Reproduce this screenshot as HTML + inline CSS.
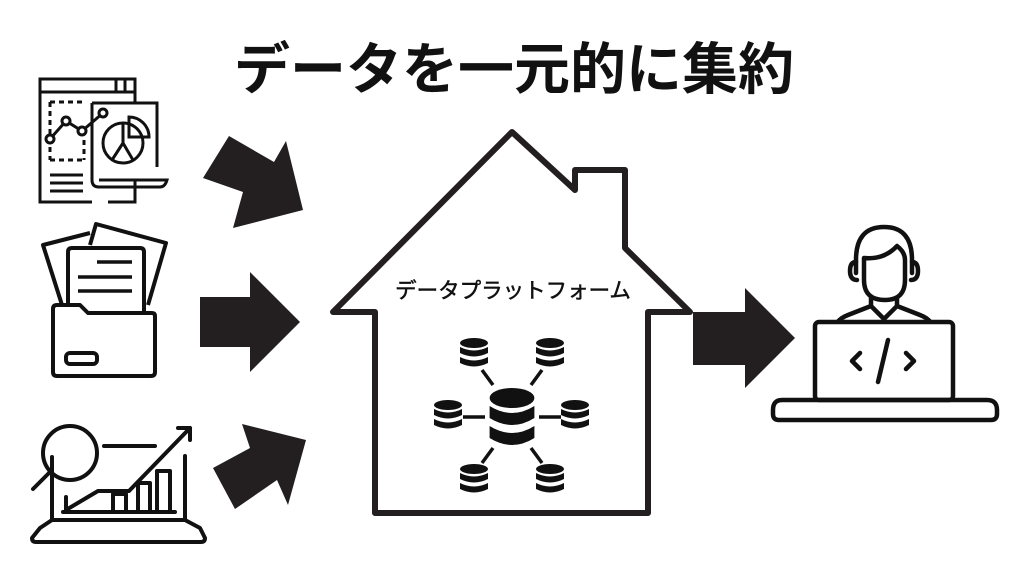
<!DOCTYPE html>
<html><head><meta charset="utf-8"><style>
html,body{margin:0;padding:0;background:#fff;}
svg{display:block}
</style></head><body>
<svg width="1024" height="576" viewBox="0 0 1024 576" xmlns="http://www.w3.org/2000/svg">
<rect width="1024" height="576" fill="#fff"/>
<text x="514" y="89" text-anchor="middle" font-family="Liberation Sans, Noto Sans CJK JP, sans-serif" font-weight="bold" font-size="56" fill="#111">データを一元的に集約</text>

<!-- arrows -->
<g fill="#231f20">
<polygon points="203,178 229,136 274,162 286,141 303,210 233,228 243,192"/>
<polygon points="200,297 250,297 250,272 300,322 250,372 250,347 200,347"/>
<polygon points="213,468 250,448 242,424 306,440 288,505 277,480 235,509"/>
<polygon points="693,312 745,312 745,288 795,338 745,388 745,365 693,365"/>
</g>

<!-- house -->
<path d="M512,132 L575,190 L575,170 L625,170 L625,248 L690,312 L648,312 L648,513 L375,513 L375,312 L333,312 Z" fill="none" stroke="#231f20" stroke-width="6" stroke-linejoin="round"/>
<text x="513" y="298" text-anchor="middle" font-family="Liberation Sans, Noto Sans CJK JP, sans-serif" font-size="21.5" fill="#111" stroke="#111" stroke-width="0.5">データプラットフォーム</text>

<!-- databases -->
<defs>
<g id="db">
<ellipse cx="0" cy="-10" rx="14" ry="5" fill="#111"/>
<path d="M-14,-6 q14,7 28,0 v6 q-14,7 -28,0 z" fill="#111"/>
<path d="M-14,4 q14,7 28,0 v6 q-14,7 -28,0 z" fill="#111"/>
</g>
</defs>
<g stroke="#111" stroke-width="3.5">
<line x1="482" y1="370" x2="493" y2="385"/><line x1="542" y1="370" x2="531" y2="385"/>
<line x1="463" y1="417" x2="485" y2="417"/><line x1="539" y1="417" x2="561" y2="417"/>
<line x1="482" y1="463" x2="493" y2="448"/><line x1="542" y1="463" x2="531" y2="448"/>
</g>
<use href="#db" x="474" y="353"/><use href="#db" x="550" y="353"/>
<use href="#db" x="448" y="415"/><use href="#db" x="575" y="415"/>
<use href="#db" x="474" y="479"/><use href="#db" x="550" y="479"/>
<g transform="translate(512,418) scale(1.6,2)"><use href="#db"/></g>

<!-- icon 1 -->
<g fill="none" stroke="#111" stroke-width="3">
<path d="M92,202 H40 V79 H135 V103"/><path d="M40,92 H135"/><path d="M116,79 V92 M125,79 V92"/>
<path d="M108,202 H135 V180"/>
<path d="M92,103 H157 V167"/><path d="M92,103 V180 q0,7 7,7 H160 q5,0 7,-7 H99"/>
<path d="M50,102 H84 M50,160 H84 M50,102 V160 M84,140 V160" stroke-dasharray="5,4"/>
<polyline points="50,139 66,121 82,131 103,113"/>
<circle cx="50" cy="139" r="4" fill="#fff"/><circle cx="66" cy="121" r="4" fill="#fff"/><circle cx="82" cy="131" r="4" fill="#fff"/><circle cx="103" cy="113" r="4" fill="#fff"/>
<circle cx="123" cy="143" r="20"/><path d="M123,143 V123 M123,143 L112,160 M123,143 L133,160"/>
<path d="M129,117 V137 H149 A20,20 0 0 0 129,117 Z"/>
<path d="M50,175 H83 M50,183 H83 M50,191 H83"/>
</g>

<!-- icon 2 folder -->
<g fill="none" stroke="#111" stroke-width="4" stroke-linejoin="round">
<path d="M62,305 L43,245 L90,233"/>
<path d="M148,305 L166,243 L96,224 L90,245"/>
<path d="M68,305 V192 q0,-4 4,-4 H140 q4,0 4,4 V308" transform="translate(0,60)"/>
<path d="M57,305 H80 L88,313 H152 q3,0 3,3 V372 q0,4 -4,4 H57 q-4,0 -4,-4 V309 q0,-4 4,-4 Z" fill="#fff"/>
<rect x="66" y="353" width="31" height="11" rx="4"/>
<path d="M97,262 H132 M78,277 H132 M78,291 H132" stroke-width="3.5"/>
</g>

<!-- icon 3 -->
<g fill="none" stroke="#111" stroke-width="4" stroke-linejoin="round" stroke-linecap="round">
<path d="M40,528 L52,520 H185 L200,528 L205,538 q0,4 -4,4 H36 q-4,0 -4,-4 Z"/>
<path d="M52,520 V457 M185,520 V456"/>
<path d="M104,446 H155"/>
<circle cx="70" cy="453" r="27"/><path d="M50,472 L33,489"/>
<polyline points="66,510 98,491 129,491 190,428"/><path d="M178,428 H190 V440"/>
<path d="M66,510 V497"/><path d="M63,512 H175"/>
<path d="M113,510 V494 H126 V510 M138,510 V483 H150 V510 M157,510 V471 H170 V510"/>
</g>

<!-- person -->
<g fill="none" stroke="#111" stroke-width="4.5" stroke-linejoin="round" stroke-linecap="round">
<path d="M856,273 V260 q0,-33 28,-33 q28,0 28,33 V273"/>
<path d="M864,258 q20,2 33,-12 q8,6 8,14 V280 q0,20 -20,20 q-21,0 -21,-20 Z"/>
<path d="M856,262 q-6,0 -6,9 q0,9 7,9 M912,262 q6,0 6,9 q0,9 -7,9"/>
<path d="M871,298 V306 L848,315 q-8,3 -11,8 M897,298 V306 L920,315 q8,3 11,8 M871,306 L884,319 L897,306"/>
<rect x="815" y="322" width="138" height="78" rx="4" fill="#fff"/>
<path d="M782,400 H987 q10,0 10,10 v4 q0,6 -6,6 H779 q-6,0 -6,-6 v-4 q0,-10 9,-10 Z"/>
<path d="M860,353 L852,361 L860,369 M906,353 L914,361 L906,369 M888,340 L878,382"/>
</g>
</svg>
</body></html>
